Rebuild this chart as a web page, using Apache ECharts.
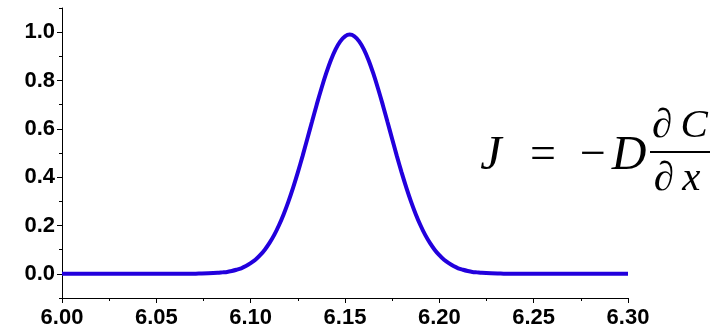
<!DOCTYPE html>
<html>
<head>
<meta charset="utf-8">
<script src="https://cdn.jsdelivr.net/npm/echarts@6/dist/echarts.min.js"></script>
<style>
  html, body { margin: 0; padding: 0; background: #fff; }
  #chart { width: 719px; height: 330px; }
</style>
</head>
<body>
<div id="chart"></div>
<script>
// position (x) and signal (y)
const xValues = [
  6.00, 6.03, 6.06, 6.0675, 6.0725, 6.0775, 6.0825, 6.085, 6.0875, 6.09,
  6.0925, 6.095, 6.0975, 6.10, 6.1025, 6.105, 6.1075, 6.11, 6.1125, 6.115,
  6.1175, 6.12, 6.1225, 6.125, 6.1275, 6.13, 6.1325, 6.135, 6.1375, 6.14,
  6.1425, 6.145, 6.1475, 6.15, 6.1525, 6.155, 6.1575, 6.16, 6.1625, 6.165,
  6.1675, 6.17, 6.1725, 6.175, 6.1775, 6.18, 6.1825, 6.185, 6.1875, 6.19,
  6.1925, 6.195, 6.1975, 6.20, 6.2025, 6.205, 6.2075, 6.21, 6.2125, 6.215,
  6.2175, 6.22, 6.2225, 6.2275, 6.2325, 6.2375, 6.27, 6.30
];
const yValues = [
  0, 0, 0, 0, 0.001, 0.002, 0.004, 0.006, 0.008, 0.012,
  0.017, 0.023, 0.032, 0.044, 0.058, 0.077, 0.100, 0.128, 0.161, 0.201,
  0.247, 0.299, 0.357, 0.420, 0.487, 0.558, 0.629, 0.700, 0.767, 0.829,
  0.884, 0.929, 0.962, 0.983, 0.990, 0.983, 0.962, 0.929, 0.884, 0.829,
  0.767, 0.700, 0.629, 0.558, 0.487, 0.420, 0.357, 0.299, 0.247, 0.201,
  0.161, 0.128, 0.100, 0.077, 0.058, 0.044, 0.032, 0.023, 0.017, 0.012,
  0.008, 0.006, 0.004, 0.002, 0.001, 0, 0, 0
];
const yMajorTicks = [0, 0.2, 0.4, 0.6, 0.8, 1.0];
const yMinorTicks = [-0.1, 0.1, 0.3, 0.5, 0.7, 0.9, 1.1];

const chart = echarts.init(document.getElementById('chart'));

const labelFont = {
  color: '#000',
  fontFamily: 'Liberation Sans, Arial, sans-serif',
  fontWeight: 'bold',
  fontSize: 22,
};
const axisLine = { show: true, onZero: false, lineStyle: { color: '#000', width: 1 } };

const mathFont = (size) => `italic ${size}px "Liberation Serif", "Times New Roman", serif`;

chart.setOption({
  animation: false,
  grid: { left: 62, right: 91, top: 8, bottom: 32 },
  xAxis: {
    type: 'value',
    min: 6.0,
    max: 6.3,
    interval: 0.05,
    axisLine: axisLine,
    axisTick: { show: true, length: 5, lineStyle: { color: '#000' } },
    minorTick: { show: true, splitNumber: 2, length: 3, lineStyle: { color: '#000' } },
    splitLine: { show: false },
    axisLabel: Object.assign({ margin: 9, formatter: (v) => v.toFixed(2) }, labelFont),
  },
  yAxis: [
    {
      type: 'value',
      min: -0.1,
      max: 1.1,
      axisLine: axisLine,
      axisTick: { show: true, length: 5, customValues: yMajorTicks, lineStyle: { color: '#000' } },
      splitLine: { show: false },
      axisLabel: Object.assign({ margin: 7, customValues: yMajorTicks, formatter: (v) => v.toFixed(1) }, labelFont),
    },
    {
      type: 'value',
      min: -0.1,
      max: 1.1,
      position: 'left',
      axisLine: { show: false },
      axisTick: { show: true, length: 3, customValues: yMinorTicks, lineStyle: { color: '#000' } },
      splitLine: { show: false },
      axisLabel: { show: false },
    },
  ],
  series: [
    {
      type: 'line',
      data: xValues.map((x, i) => [x, yValues[i]]),
      smooth: 0.3,
      showSymbol: false,
      lineStyle: { color: '#2200dd', width: 4 },
    },
  ],
  graphic: [
    { type: 'text', x: 491, y: 156, style: { text: 'J', font: mathFont(48), fill: '#000', textAlign: 'center', textVerticalAlign: 'middle' } },
    { type: 'text', x: 543, y: 156, style: { text: '=', font: `46px "Liberation Serif", serif`, fill: '#000', textAlign: 'center', textVerticalAlign: 'middle' } },
    { type: 'text', x: 593, y: 156, style: { text: '\u2212', font: `46px "Liberation Serif", serif`, fill: '#000', textAlign: 'center', textVerticalAlign: 'middle' } },
    { type: 'text', x: 629, y: 156, style: { text: 'D', font: mathFont(48), fill: '#000', textAlign: 'center', textVerticalAlign: 'middle' } },
    { type: 'text', x: 680, y: 126, style: { text: '\u2202\u2009C', font: mathFont(41), fill: '#000', textAlign: 'center', textVerticalAlign: 'middle' } },
    { type: 'line', shape: { x1: 650, y1: 152, x2: 710, y2: 152 }, style: { stroke: '#000', lineWidth: 2 } },
    { type: 'text', x: 677, y: 179, style: { text: '\u2202\u2009x', font: mathFont(41), fill: '#000', textAlign: 'center', textVerticalAlign: 'middle' } },
  ],
});
</script>
</body>
</html>
